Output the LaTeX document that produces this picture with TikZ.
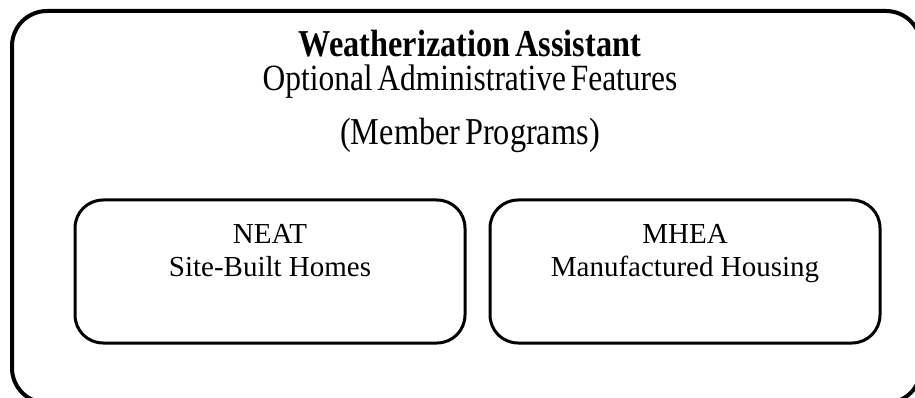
\documentclass[tikz,border=0pt]{standalone}
\usepackage{fontspec}
\setmainfont{Liberation Serif}
\newfontfamily\headfont[FakeStretch=0.85,WordSpace=0.6]{Liberation Serif}
\usetikzlibrary{positioning}

\begin{document}
\begin{tikzpicture}[x=1pt, y=-1pt, node distance=22pt,
		progbox/.style={draw, line width=3pt, rounded corners=28pt, minimum width=390pt, minimum height=143pt, inner sep=0pt},
		progtext/.style={align=center, inner sep=0pt, font=\fontsize{29}{33}\selectfont},
		headtext/.style={anchor=base, inner sep=0pt, font=\headfont\fontsize{37}{40}\selectfont}]
		
		\useasboundingbox (0,0) rectangle (915,398);
		\clip (0,0) rectangle (915,398);
		
		% Frame
		\draw[line width=4pt, rounded corners=35pt] (12,11) rectangle (921,403);
		
		% Heading
		\node[headtext, font=\headfont\bfseries\fontsize{38}{40}\selectfont] (title) at (470,57) {Weatherization Assistant};
		\node[headtext] (features) at (470,91) {Optional Administrative Features};
		\node[headtext, font=\headfont\fontsize{38}{40}\selectfont] (members) at (470,145) {(Member Programs)};
		
		% Nodes
		\node[progbox] (neat) at (270,271.5) {};
		\node[progbox, right=of neat] (mhea) {};
		
		\node[progtext, below=26pt of neat.north] (neattext) {NEAT\\Site-Built Homes};
		\node[progtext, below=26pt of mhea.north] (mheatext) {MHEA\\Manufactured Housing};
		
\end{tikzpicture}
\end{document}
